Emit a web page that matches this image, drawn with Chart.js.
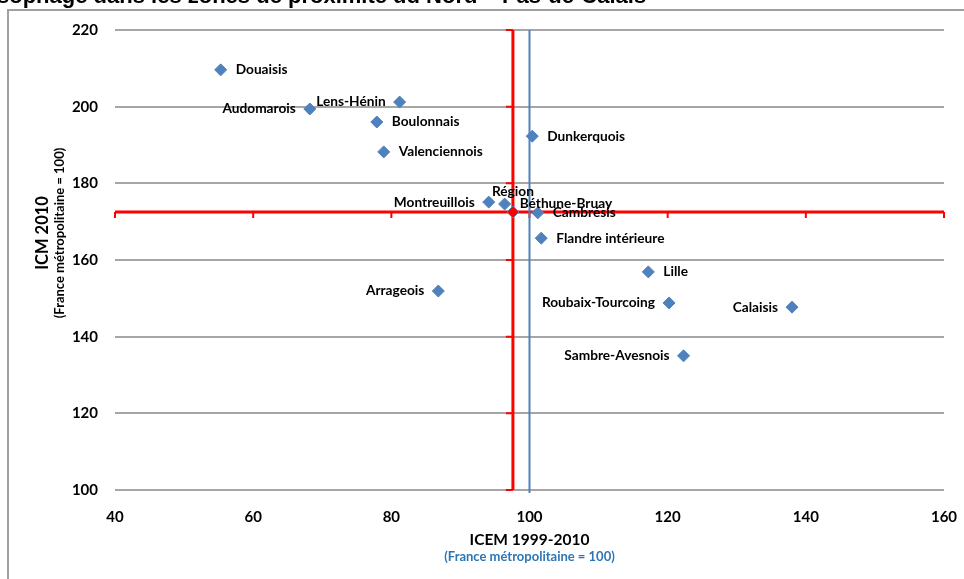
<!DOCTYPE html>
<html lang="fr">
<head>
<meta charset="UTF-8" />
<title>ICM / ICEM</title>
<script src="https://cdn.jsdelivr.net/npm/chart.js"></script>
<style>
  html, body { margin: 0; padding: 0; background: #fff; }
  canvas { display: block; }
</style>
</head>
<body>
<canvas id="chart" width="964" height="579"></canvas>
<script>
// zones de proximité
const zones = ['Douaisis', 'Audomarois', 'Lens-Hénin', 'Boulonnais', 'Valenciennois', 'Dunkerquois',
  'Montreuillois', 'Béthune-Bruay', 'Région', 'Cambrésis', 'Flandre intérieure', 'Lille',
  'Arrageois', 'Roubaix-Tourcoing', 'Calaisis', 'Sambre-Avesnois'];
// ICEM 1999-2010 (x)
const icem = [55.3, 68.2, 81.2, 77.9, 78.9, 100.4, 94.1, 96.4, 97.6, 101.2, 101.7, 117.2, 86.8, 120.2, 138.0, 122.3];
// ICM 2010 (y)
const icm = [209.6, 199.4, 201.2, 196.0, 188.2, 192.3, 175.1, 174.6, 172.5, 172.3, 165.7, 156.9, 151.9, 148.8, 147.7, 135.0];
// position de l'étiquette : r = droite, l = gauche, t = dessus
const labelPos = ['r', 'l', 'l', 'r', 'r', 'r', 'l', 'r', 't', 'r', 'r', 'r', 'l', 'l', 'l', 'l'];

const xTicks = [40, 60, 80, 100, 120, 140, 160];
const yTicks = [100, 120, 140, 160, 180, 200, 220];
const refLine = 100; // France métropolitaine

const FONT = 'Lato, "Open Sans", sans-serif';
const blue = '#4F81BD';
const regionIdx = zones.indexOf('Région');

const points = zones.map((z, i) => ({ x: icem[i], y: icm[i] }));

// axes rouges croisant à la valeur de la région + ligne de référence bleue
const crossPlugin = {
  id: 'cross',
  beforeDatasetsDraw(chart) {
    const { ctx, scales: { x, y } } = chart;
    const rx = x.getPixelForValue(icem[regionIdx]);
    const ry = y.getPixelForValue(icm[regionIdx]);
    ctx.save();
    ctx.strokeStyle = '#FF0000';
    ctx.lineWidth = 3;
    ctx.beginPath();
    ctx.moveTo(x.getPixelForValue(xTicks[0]), ry);
    ctx.lineTo(x.getPixelForValue(xTicks[xTicks.length - 1]), ry);
    ctx.moveTo(rx, y.getPixelForValue(yTicks[0]));
    ctx.lineTo(rx, y.getPixelForValue(yTicks[yTicks.length - 1]));
    ctx.stroke();
    ctx.lineWidth = 2;
    ctx.beginPath();
    xTicks.forEach(v => {
      const px = x.getPixelForValue(v);
      ctx.moveTo(px, ry);
      ctx.lineTo(px, ry + 6);
    });
    yTicks.forEach(v => {
      const py = y.getPixelForValue(v);
      ctx.moveTo(rx, py);
      ctx.lineTo(rx - 7, py);
    });
    ctx.stroke();

    // ligne bleue x = 100
    const bx = x.getPixelForValue(refLine);
    ctx.strokeStyle = blue;
    ctx.lineWidth = 2;
    ctx.beginPath();
    ctx.moveTo(bx, y.getPixelForValue(yTicks[yTicks.length - 1]));
    ctx.lineTo(bx, y.getPixelForValue(yTicks[0]) + 3);
    ctx.stroke();
    ctx.restore();
  }
};

// étiquettes, titres, cadre
const textPlugin = {
  id: 'texts',
  beforeDraw(chart) {
    const { ctx } = chart;
    ctx.save();
    ctx.strokeStyle = '#A0A0A0';
    ctx.lineWidth = 2;
    ctx.strokeRect(8, 10, 980, 600);
    ctx.restore();
  },
  afterDatasetsDraw(chart) {
    const { ctx, chartArea } = chart;
    const meta = chart.getDatasetMeta(0);
    ctx.save();
    ctx.fillStyle = '#000';
    ctx.font = 'bold 13.7px ' + FONT;
    ctx.textBaseline = 'middle';
    meta.data.forEach((pt, i) => {
      const p = labelPos[i];
      if (p === 'r') {
        ctx.textAlign = 'left';
        ctx.fillText(zones[i], pt.x + 15, pt.y);
      } else if (p === 'l') {
        ctx.textAlign = 'right';
        ctx.fillText(zones[i], pt.x - 14, pt.y);
      } else {
        ctx.textAlign = 'center';
        ctx.fillText(zones[i], pt.x, pt.y - 20);
      }
    });

    // titre (coupé en haut)
    const title = 'sophage dans les zones de proximité du Nord – Pas-de-Calais';
    ctx.font = 'bold 20px "Liberation Sans", Arial, sans-serif';
    const w = ctx.measureText(title).width;
    const fs = 20 * 650 / w;
    ctx.font = 'bold ' + fs.toFixed(1) + 'px "Liberation Sans", Arial, sans-serif';
    ctx.textAlign = 'left';
    ctx.textBaseline = 'alphabetic';
    ctx.fillText(title, -3, 3);

    // titre axe x
    const cx = (chartArea.left + chartArea.right) / 2;
    ctx.textAlign = 'center';
    ctx.textBaseline = 'middle';
    ctx.font = 'bold 15.5px ' + FONT;
    ctx.fillText('ICEM 1999-2010', cx, 540);
    ctx.fillStyle = '#2E75B6';
    ctx.font = 'bold 13px ' + FONT;
    ctx.fillText('(France métropolitaine = 100)', cx, 557);

    // titre axe y
    ctx.save();
    ctx.translate(43, 233);
    ctx.rotate(-Math.PI / 2);
    ctx.fillStyle = '#000';
    ctx.font = 'bold 16.5px ' + FONT;
    ctx.fillText('ICM 2010', 0, 0);
    ctx.font = 'bold 13px ' + FONT;
    ctx.fillText('(France métropolitaine = 100)', 0, 17);
    ctx.restore();
    ctx.restore();
  }
};

new Chart(document.getElementById('chart'), {
  type: 'scatter',
  data: {
    datasets: [{
      label: 'Zones de proximité',
      data: points,
      pointStyle: 'rectRot',
      pointRadius: 6,
      pointHoverRadius: 6,
      backgroundColor: zones.map((z, i) => i === regionIdx ? '#FF0000' : blue),
      borderColor: blue,
      borderWidth: 1
    }]
  },
  options: {
    responsive: false,
    animation: false,
    events: [],
    layout: { padding: { top: 30, right: 20, left: 0, bottom: 0 } },
    plugins: { legend: { display: false }, tooltip: { enabled: false } },
    scales: {
      x: {
        type: 'linear',
        min: xTicks[0],
        max: xTicks[xTicks.length - 1],
        afterBuildTicks: s => { s.ticks = xTicks.map(v => ({ value: v })); },
        afterFit: s => { s.height = 89; s.paddingLeft = 0; s.paddingRight = 0; },
        grid: { display: false, drawTicks: false },
        border: { display: false },
        ticks: { color: '#000', padding: 18, font: { family: FONT, size: 15, weight: 'bold' } }
      },
      y: {
        type: 'linear',
        min: yTicks[0],
        max: yTicks[yTicks.length - 1],
        afterBuildTicks: s => { s.ticks = yTicks.map(v => ({ value: v })); },
        afterFit: s => { s.width = 115; s.paddingTop = 0; s.paddingBottom = 0; },
        grid: { color: '#A6A6A6', lineWidth: 2, drawTicks: false },
        border: { display: false },
        ticks: { color: '#000', padding: 17, font: { family: FONT, size: 15, weight: 'bold' } }
      }
    }
  },
  plugins: [crossPlugin, textPlugin]
});
</script>
</body>
</html>
